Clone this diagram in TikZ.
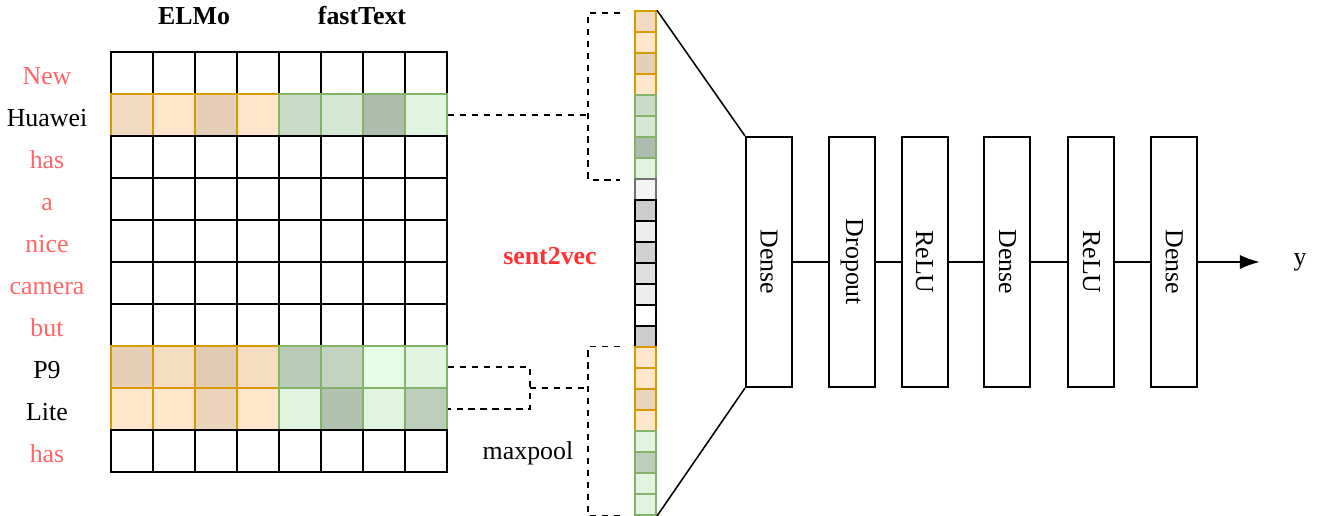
\documentclass[tikz,border=0pt]{standalone}
\usepackage{fontspec}
\setmainfont{Liberation Serif}
\usepackage{xcolor}
\usepackage{tikz}
\usetikzlibrary{calc, positioning, arrows.meta, matrix}
\definecolor{elmofill}{HTML}{FFE6CC}
\definecolor{elmoline}{HTML}{D79B00}
\definecolor{ftfill}{HTML}{D5E8D4}
\definecolor{ftlight}{HTML}{E1F4DF}
\definecolor{ftpale}{HTML}{E8FDE6}
\definecolor{ftline}{HTML}{82B366}
\definecolor{wordred}{HTML}{FF6666}
\definecolor{vecred}{HTML}{FF3333}
\newcommand{\basesize}{\fontsize{18.4}{22}\selectfont}
\newcommand{\vlabel}[1]{\rotatebox{-90}{#1}}
\tikzset{
    grid/.style={
        matrix of nodes,
        nodes in empty cells,
        nodes={
            draw=black,
            line width=1.2pt,
            minimum size=1.05cm,
            anchor=center,
            fill=white,
            inner sep=0pt
        },
        column sep=-1.2pt,
        row sep=-1.2pt,
        inner sep=0pt
    },
    vec/.style={
        matrix of nodes,
        nodes in empty cells,
        nodes={
            draw=black,
            line width=1.2pt,
            minimum size=0.525cm,
            anchor=center,
            fill=white,
            inner sep=0pt
        },
        row sep=-1.2pt,
        inner sep=0pt
    },
    elmo/.style={draw=elmoline, fill=#1},
    elmo/.default=elmofill,
    ftx/.style={draw=ftline, fill=#1},
    ftx/.default=ftfill,
    word/.style={align=center, text height=1.75ex, text depth=0.3ex, yshift=-0.16cm},
    head/.style={font={\basesize\bfseries}},
    layer/.style={rectangle, draw=black, line width=1.4pt, fill=white, minimum width=1.15cm, minimum height=6.25cm, inner sep=0pt},
    bracket/.style={draw=black, line width=1.2pt, dash pattern=on 4.5pt off 4pt},
    link/.style={draw=black, line width=1.1pt},
    arrow/.style={-{Latex[length=0.5cm, width=0.36cm]}, line width=1.3pt}
}

\begin{document}
\begin{tikzpicture}[x=0.025cm, y=-0.025cm, font=\basesize]
    \useasboundingbox (0,0) rectangle (1317,515);

    % Word embedding grid
    \matrix[grid, anchor=north west] (G) at (110,51) {
        & & & & & & & \\
        |[elmo=elmofill!95!black]| & |[elmo]| & |[elmo=elmofill!90!black]| & |[elmo]| & |[ftx=ftfill!95!black]| & |[ftx]| & |[ftx=ftfill!81!black]| & |[ftx=ftlight]| \\
        & & & & & & & \\
        & & & & & & & \\
        & & & & & & & \\
        & & & & & & & \\
        & & & & & & & \\
        |[elmo=elmofill!90!black]| & |[elmo=elmofill!96!black]| & |[elmo=elmofill!88!black]| & |[elmo=elmofill!96!black]| & |[ftx=ftfill!87!black]| & |[ftx=ftfill!91!black]| & |[ftx=ftpale]| & |[ftx=ftlight]| \\
        |[elmo]| & |[elmo]| & |[elmo=elmofill!92!black]| & |[elmo]| & |[ftx=ftlight]| & |[ftx=ftfill!83!black]| & |[ftx=ftlight]| & |[ftx=ftfill!89!black]| \\
        & & & & & & & \\
    };

    % Sentence words
    \coordinate (wordx) at (47,0);
    \foreach \w/\c [count=\i] in {New/wordred, Huawei/black, has/wordred, a/wordred, nice/wordred, camera/wordred, but/wordred, P9/black, Lite/black, has/wordred}
        \node[word, text=\c] (w\i) at (G-\i-1 -| wordx) {\w};

    \node[head] (elmo) at (194,16) {ELMo};
    \node[head] (fasttext) at (362,16) {fastText};

    % Sentence vector
    \matrix[vec, anchor=north west] (V) at (634,10) {
        |[elmo=elmofill!95!black]| \\
        |[elmo]| \\
        |[elmo=elmofill!90!black]| \\
        |[elmo]| \\
        |[ftx=ftfill!95!black]| \\
        |[ftx]| \\
        |[ftx=ftfill!81!black]| \\
        |[ftx=ftlight]| \\
        |[draw=black!55, fill=black!4]| \\
        |[fill=black!20]| \\
        |[fill=black!7]| \\
        |[fill=black!18]| \\
        |[fill=black!13]| \\
        |[fill=black!7]| \\
        \\
        |[fill=black!20]| \\
        |[elmo]| \\
        |[elmo]| \\
        |[elmo=elmofill!92!black]| \\
        |[elmo]| \\
        |[ftx=ftlight]| \\
        |[ftx=ftfill!89!black]| \\
        |[ftx=ftlight]| \\
        |[ftx=ftlight]| \\
    };

    \node[head, text=vecred] (s2v) at (550,256) {sent2vec};
    \node (maxpool) at (528,453) {maxpool};

    % Brackets
    \draw[bracket] ([xshift=-0.35cm, yshift=-0.07cm]V-1-1.north west) -| ([xshift=-1.15cm]V-8-1.south west) coordinate (topx) -- ([xshift=-0.35cm]V-8-1.south west);
    \draw[bracket] ([xshift=-0.35cm]V-17-1.north west) -| ([xshift=-1.15cm]V-24-1.south west) coordinate (botx) -- ([xshift=-0.35cm]V-24-1.south west);
    \draw[bracket] (G-2-8.east) -- (G-2-8.east -| topx);
    \draw[bracket] (G-8-8.east) -- ++(2.05cm,0) |- (G-9-8.east);
    \coordinate (pool) at ($(G-8-8.east)!0.5!(G-9-8.east)+(2.05cm,0)$);
    \draw[bracket] (pool) -- (pool -| botx);

    % Classifier layers
    \node[layer] (d1) at (769,262) {\vlabel{Dense}};
    \node[layer, right=0.87cm of d1] (d2) {\vlabel{Dropout}};
    \node[layer, right=0.62cm of d2] (d3) {\vlabel{ReLU}};
    \node[layer, right=0.87cm of d3] (d4) {\vlabel{Dense}};
    \node[layer, right=0.9cm of d4] (d5) {\vlabel{ReLU}};
    \node[layer, right=0.87cm of d5] (d6) {\vlabel{Dense}};
    \node (y) at (1300,262) {y};

    \draw[link] (V-1-1.north east) -- (d1.north west);
    \draw[link] (V-24-1.south east) -- (d1.south west);
    \foreach \a/\b in {d1/d2, d2/d3, d3/d4, d4/d5, d5/d6}
        \draw[link] (\a) -- (\b);
    \draw[arrow] (d6.east) -- ([xshift=-0.72cm]y.west);
\end{tikzpicture}
\end{document}
